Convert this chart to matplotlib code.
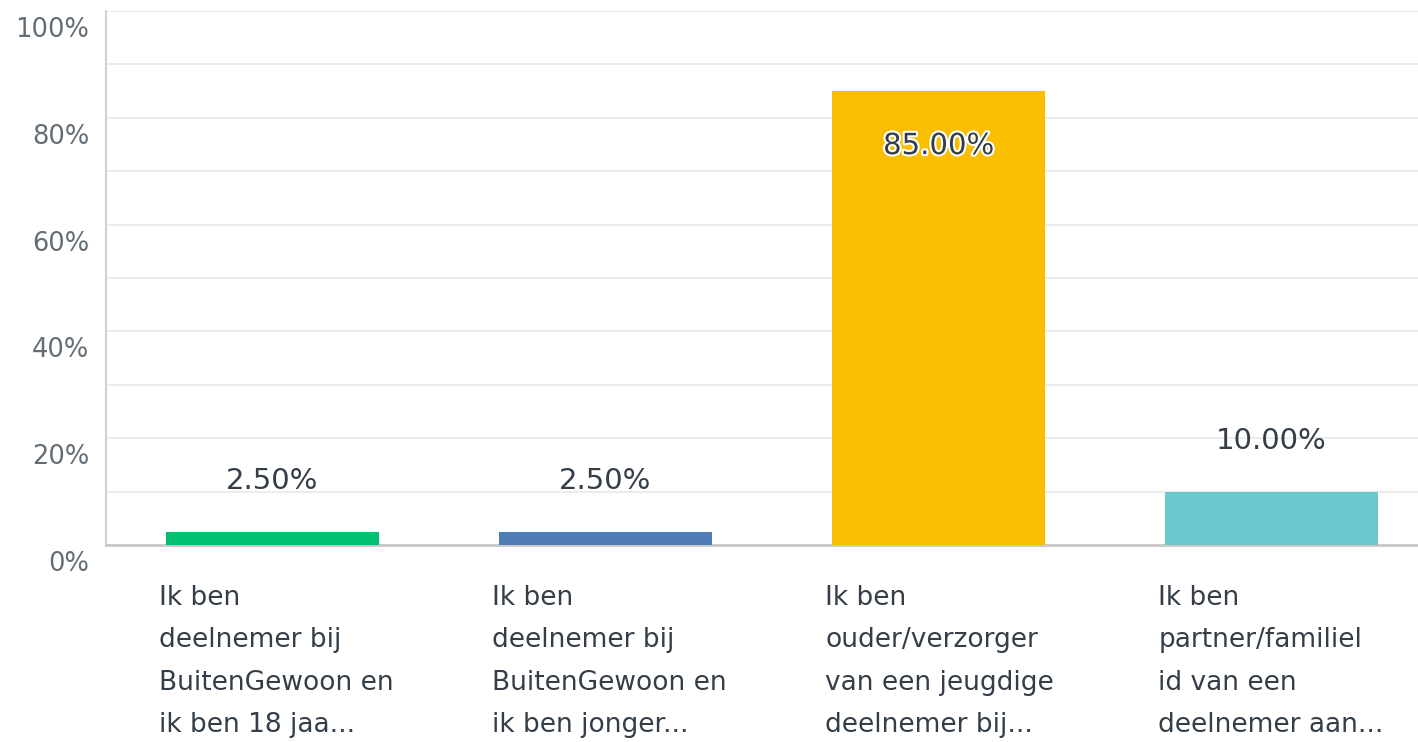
import numpy as np
import matplotlib.pyplot as plt
import matplotlib.transforms as mtransforms
import matplotlib.patheffects as pe

categories = [
    "Ik ben\ndeelnemer bij\nBuitenGewoon en\nik ben 18 jaa...",
    "Ik ben\ndeelnemer bij\nBuitenGewoon en\nik ben jonger...",
    "Ik ben\nouder/verzorger\nvan een jeugdige\ndeelnemer bij...",
    "Ik ben\npartner/familiel\nid van een\ndeelnemer aan...",
]
values = [2.5, 2.5, 85.0, 10.0]
colors = ["#00bf6f", "#507cb6", "#f9be00", "#6bc8cd"]

plt.rcParams['font.family'] = ['DejaVu Sans']

fig = plt.figure(figsize=(14.18, 7.42), dpi=100)
ax = fig.add_axes([106 / 1418, 197 / 742, 1 - 106 / 1418, 534 / 742])

x = np.arange(len(values))
bar_w = 0.64
ax.bar(x, values, width=bar_w, color=colors, zorder=3)

ax.set_xlim(-0.5, 3.44)
ax.set_ylim(0, 100)
ax.set_yticks(np.arange(0, 101, 20))
ax.set_yticks(np.arange(10, 100, 20), minor=True)
ax.set_yticklabels([f"{v}%" for v in range(0, 101, 20)])
ax.grid(axis='y', which='both', color='#ececec', linewidth=1.5, zorder=0)
ax.tick_params(axis='y', which='both', length=0, labelsize=18.5, labelcolor='#626d75', pad=12)
ax.set_xticks([])

# the y labels sit a bit below their grid lines
offset = mtransforms.ScaledTranslation(0, -16 / 100, fig.dpi_scale_trans)
for lab in ax.get_yticklabels():
    lab.set_transform(lab.get_transform() + offset)

for side in ['top', 'right']:
    ax.spines[side].set_visible(False)
ax.spines['left'].set_color('#d0d0d0')
ax.spines['left'].set_linewidth(1.5)
ax.spines['bottom'].set_color('#c8c8c8')
ax.spines['bottom'].set_linewidth(2)

# value labels
for xi, v in zip(x, values):
    if v > 50:
        ax.text(xi, v - 10.3, f"{v:.2f}%", ha='center', va='center', fontsize=21,
                color='#333e48', zorder=4,
                path_effects=[pe.withStroke(linewidth=3, foreground='white')])
    else:
        ax.text(xi, v + 9.5, f"{v:.2f}%", ha='center', va='center', fontsize=21,
                color='#333e48', zorder=4)

# category labels below the axis, left aligned
trans = mtransforms.blended_transform_factory(ax.transData, ax.transAxes)
for xi, lab in zip(x, categories):
    ax.text(xi - bar_w / 2 - 0.02, -0.075, lab, transform=trans, ha='left', va='top',
            fontsize=19, color='#333e48', linespacing=1.82)

fig.savefig("out.png", dpi=100, facecolor='white')
